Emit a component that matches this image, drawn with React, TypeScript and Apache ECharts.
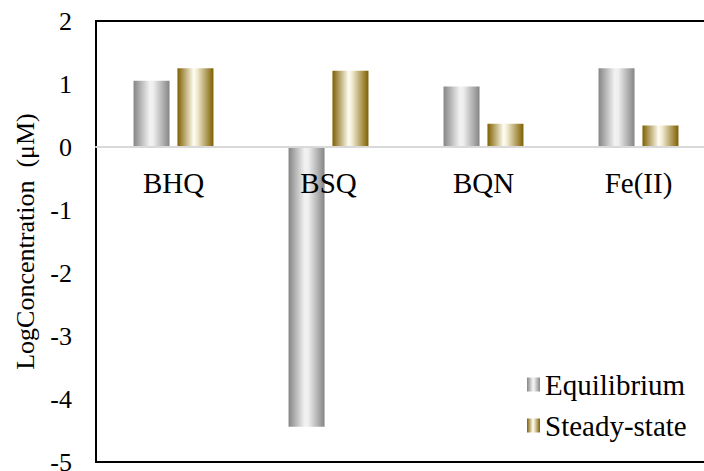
import React, { useEffect, useRef } from "react";
import * as echarts from "echarts";

const categories = ["BHQ", "BSQ", "BQN", "Fe(II)"];
const equilibrium = [1.05, -4.44, 0.96, 1.25];
const steadyState = [1.25, 1.21, 0.37, 0.34];
const yTicks = { min: -5, max: 2, interval: 1 };

const FONT = "'Liberation Serif', 'Times New Roman', serif";

const greyGrad = () =>
  new echarts.graphic.LinearGradient(0, 0, 1, 0, [
    { offset: 0, color: "#858585" },
    { offset: 0.45, color: "#f2f2f2" },
    { offset: 0.55, color: "#eeeeee" },
    { offset: 1, color: "#858585" },
  ]);
const goldGrad = () =>
  new echarts.graphic.LinearGradient(0, 0, 1, 0, [
    { offset: 0, color: "#7f6000" },
    { offset: 0.45, color: "#fffdf2" },
    { offset: 0.55, color: "#f0ead0" },
    { offset: 1, color: "#7f6000" },
  ]);

export default function App() {
  const ref = useRef<HTMLDivElement>(null);
  useEffect(() => {
    if (!ref.current) return;
    const chart = echarts.init(ref.current, undefined, { renderer: "svg" });
    chart.setOption({
      animation: false,
      textStyle: { fontFamily: FONT, color: "#000" },
      grid: {
        left: 96,
        top: 21,
        right: -12,
        bottom: 9,
        show: true,
        borderColor: "#000",
        borderWidth: 2,
        containLabel: false,
        outerBoundsMode: "none",
      },
      legend: {
        orient: "vertical",
        left: 522,
        top: 365,
        itemWidth: 13,
        itemHeight: 14,
        itemGap: 12,
        icon: "rect",
        textStyle: { fontFamily: FONT, fontSize: 29, lineHeight: 28, color: "#000" },
        data: ["Equilibrium", "Steady-state"],
      },
      xAxis: {
        type: "category",
        data: categories,
        z: 5,
        axisLine: { onZero: true, lineStyle: { color: "#d9d9d9", width: 2 } },
        axisTick: { show: false },
        axisLabel: { fontFamily: FONT, fontSize: 29, color: "#000", margin: -294 },
        splitLine: { show: false },
      },
      yAxis: {
        type: "value",
        min: yTicks.min,
        max: yTicks.max,
        interval: yTicks.interval,
        axisLine: { show: false },
        axisTick: { show: false },
        splitLine: { show: false },
        axisLabel: { fontFamily: FONT, fontSize: 26, color: "#000", margin: 24 },
        name: "LogConcentration  (μM)",
        nameLocation: "middle",
        nameGap: 58,
        nameTextStyle: { fontFamily: FONT, fontSize: 26, color: "#000" },
      },
      series: [
        {
          name: "Equilibrium",
          type: "bar",
          data: equilibrium,
          barWidth: 36,
          barGap: "22%",
          itemStyle: { color: greyGrad() },
        },
        {
          name: "Steady-state",
          type: "bar",
          data: steadyState,
          barWidth: 36,
          barGap: "22%",
          itemStyle: { color: goldGrad() },
        },
      ],
    });
    return () => chart.dispose();
  }, []);
  return <div ref={ref} style={{ width: 704, height: 471, position: "absolute", left: 0, top: 0 }} />;
}
